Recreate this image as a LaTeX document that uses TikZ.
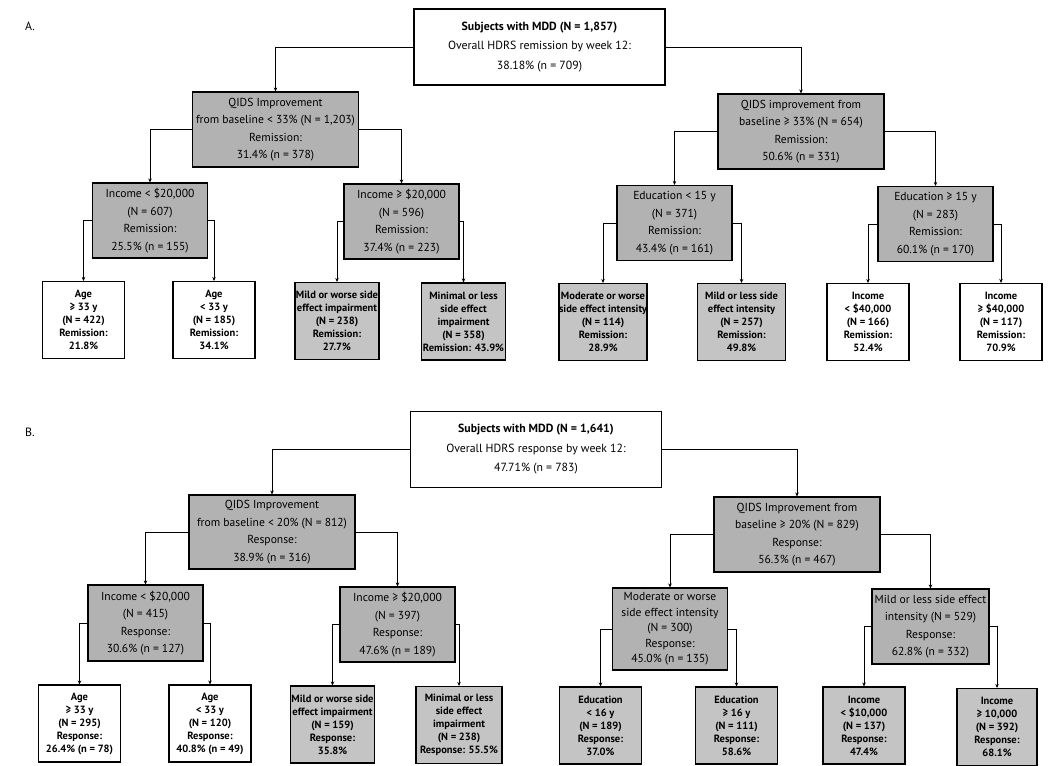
\documentclass[tikz,border=0pt]{standalone}
\usepackage{fontspec}
\setmainfont{PT Sans}
\usepackage{tikz}
\usetikzlibrary{arrows.meta}

\definecolor{splitgray}{gray}{0.70}
\definecolor{leafgray}{gray}{0.77}
\newcommand{\geqs}{≥}

\begin{document}
\begin{tikzpicture}[x=1pt, y=-1pt,
  rootbox/.style={draw, line width=1.1pt, fill=white, minimum width=251pt, minimum height=76pt,
    inner sep=0pt, align=center, font=\fontsize{11.8}{19.5}\selectfont},
  splitbox/.style={draw, line width=1.1pt, fill=splitgray, minimum width=166pt, minimum height=75pt,
    inner sep=0pt, align=center, font=\fontsize{11.6}{17.5}\selectfont},
  midbox/.style={splitbox, minimum width=115pt},
  leafbox/.style={draw, line width=1.1pt, fill=white, minimum width=82pt, minimum height=77pt,
    inner sep=0pt, align=center, font=\fontsize{10.5}{13}\selectfont\bfseries},
  greyleaf/.style={leafbox, fill=leafgray},
  dep/.style={-{Stealth[length=4pt, width=3.5pt]}, line width=0.6pt},
  panel/.style={font=\fontsize{12}{14}\selectfont}
]
\useasboundingbox (0,0) rectangle (1050,766);

% ---------- Panel A: remission ----------
\node[panel] (labA) at (30,26) {A.};
\node[rootbox] (rootA) at (539.5,47)
  {\textbf{Subjects with MDD (N = 1,857)}\\Overall HDRS remission by week 12:\\38.18\% (n = 709)};

\node[splitbox] (q1A) at (275.5,129.5)
  {QIDS Improvement\\from baseline < 33\% (N = 1,203)\\Remission:\\31.4\% (n = 378)};
\node[splitbox] (q2A) at (801,131.5)
  {QIDS improvement from\\baseline \geqs{} 33\% (N = 654)\\Remission:\\50.6\% (n = 331)};

\node[midbox] (i1A) at (150,220.5) {Income < \$20,000\\(N = 607)\\Remission:\\25.5\% (n = 155)};
\node[midbox] (i2A) at (401.5,221.5) {Income \geqs{} \$20,000\\(N = 596)\\Remission:\\37.4\% (n = 223)};
\node[midbox] (e1A) at (674.5,223) {Education < 15 y\\(N = 371)\\Remission:\\43.4\% (n = 161)};
\node[midbox] (e2A) at (935.5,224) {Education \geqs{} 15 y\\(N = 283)\\Remission:\\60.1\% (n = 170)};

% leaves
\node[leafbox] (a1A) at (83.5,320) {Age\\\geqs{} 33 y\\(N = 422)\\Remission:\\21.8\%};
\node[leafbox] (a2A) at (214,320) {Age\\< 33 y\\(N = 185)\\Remission:\\34.1\%};
\node[greyleaf, minimum width=84pt] (s1A) at (337,321) {Mild or worse side\\effect impairment\\(N = 238)\\Remission:\\27.7\%};
\node[greyleaf, minimum width=84pt] (s2A) at (463.5,321.5) {Minimal or less\\side effect\\impairment\\(N = 358)\\Remission: 43.9\%};
\node[greyleaf, minimum width=86pt] (m1A) at (603,322) {Moderate or worse\\side effect intensity\\(N = 114)\\Remission:\\28.9\%};
\node[greyleaf, minimum width=88pt] (m2A) at (741.5,322) {Mild or less side\\effect intensity\\(N = 257)\\Remission:\\49.8\%};
\node[leafbox] (c1A) at (868,322) {Income\\< \$40,000\\(N = 166)\\Remission:\\52.4\%};
\node[leafbox] (c2A) at (1001,322) {Income\\\geqs{} \$40,000\\(N = 117)\\Remission:\\70.9\%};

\draw[dep] (rootA.west) -| (q1A.north);
\draw[dep] (rootA.east) -| (q2A.north);
\draw[dep] (q1A.west) -| (i1A.north);
\draw[dep] (q1A.east) -| (i2A.north);
\draw[dep] (q2A.west) -| (e1A.north);
\draw[dep] (q2A.east) -| (e2A.north);
\draw[dep] (i1A.west) -| (a1A.north);
\draw[dep] (i1A.east) -| (a2A.north);
\draw[dep] (i2A.west) -| (s1A.north);
\draw[dep] (i2A.east) -| (s2A.north);
\draw[dep] (e1A.west) -| (m1A.north);
\draw[dep] (e1A.east) -| (m2A.north);
\draw[dep] (e2A.west) -| (c1A.north);
\draw[dep] (e2A.east) -| (c2A.north);

% ---------- Panel B: response ----------
\node[panel] (labB) at (30,432) {B.};
\node[rootbox] (rootB) at (536,449.5)
  {\textbf{Subjects with MDD (N = 1,641)}\\Overall HDRS response by week 12:\\47.71\% (n = 783)};

\node[splitbox, minimum height=74pt] (q1B) at (272,532)
  {QIDS Improvement\\from baseline < 20\% (N = 812)\\Response:\\38.9\% (n = 316)};
\node[splitbox] (q2B) at (797,534.5)
  {QIDS Improvement from\\baseline \geqs{} 20\% (N = 829)\\Response:\\56.3\% (n = 467)};

\node[midbox, minimum height=76pt] (i1B) at (145.5,623) {Income < \$20,000\\(N = 415)\\Response:\\30.6\% (n = 127)};
\node[midbox] (i2B) at (397.5,624.5) {Income \geqs{} \$20,000\\(N = 397)\\Response:\\47.6\% (n = 189)};
\node[midbox, minimum height=82pt, font=\fontsize{11.6}{15.5}\selectfont] (m1B) at (670,629)
  {Moderate or worse\\side effect intensity\\(N = 300)\\Response:\\45.0\% (n = 135)};
\node[midbox, minimum width=117pt] (m2B) at (930.5,626.5)
  {Mild or less side effect\\intensity (N = 529)\\Response:\\62.8\% (n = 332)};

% leaves
\node[leafbox] (a1B) at (79.5,723.5) {Age\\\geqs{} 33 y\\(N = 295)\\Response:\\26.4\% (n = 78)};
\node[leafbox] (a2B) at (210,723.5) {Age\\< 33 y\\(N = 120)\\Response:\\40.8\% (n = 49)};
\node[greyleaf, minimum width=84pt] (s1B) at (332.5,724.5) {Mild or worse side\\effect impairment\\(N = 159)\\Response:\\35.8\%};
\node[greyleaf, minimum width=86pt] (s2B) at (459,725) {Minimal or less\\side effect\\impairment\\(N = 238)\\Response: 55.5\%};
\node[greyleaf] (d1B) at (600.5,725.5) {Education\\< 16 y\\(N = 189)\\Response:\\37.0\%};
\node[greyleaf] (d2B) at (736.5,725.5) {Education\\\geqs{} 16 y\\(N = 111)\\Response:\\58.6\%};
\node[greyleaf] (n1B) at (864,725.5) {Income\\< \$10,000\\(N = 137)\\Response:\\47.4\%};
\node[greyleaf, minimum width=80pt] (n2B) at (997,727) {Income\\\geqs{} 10,000\\(N = 392)\\Response:\\68.1\%};

\draw[dep] (rootB.west) -| (q1B.north);
\draw[dep] (rootB.east) -| (q2B.north);
\draw[dep] (q1B.west) -| (i1B.north);
\draw[dep] (q1B.east) -| (i2B.north);
\draw[dep] (q2B.west) -| (m1B.north);
\draw[dep] (q2B.east) -| (m2B.north);
\draw[dep] (i1B.west) -| (a1B.north);
\draw[dep] (i1B.east) -| (a2B.north);
\draw[dep] (i2B.west) -| (s1B.north);
\draw[dep] (i2B.east) -| (s2B.north);
\draw[dep] (m1B.west) -| (d1B.north);
\draw[dep] (m1B.east) -| (d2B.north);
\draw[dep] (m2B.west) -| (n1B.north);
\draw[dep] (m2B.east) -| (n2B.north);

\end{tikzpicture}
\end{document}
